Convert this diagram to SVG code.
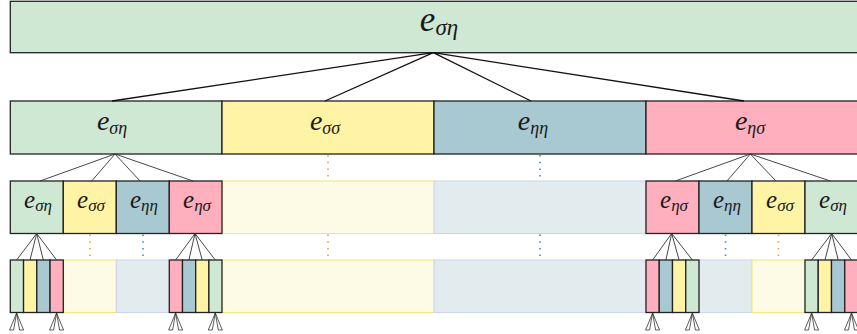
<svg xmlns="http://www.w3.org/2000/svg" width="857" height="334" viewBox="0 0 857 334">
<style>
.b{stroke:#222;stroke-width:1.3}
.g{fill:#cfe8d3}.y{fill:#fff4a6}.u{fill:#a8c8d2}.p{fill:#ffafbd}
.fy{fill:#fdfbe5;stroke:#f0e87e;stroke-width:1}
.fu{fill:#e2ebee;stroke:#ccd3ee;stroke-width:1}
.t{font-family:"Liberation Serif",serif;font-style:italic;fill:#1a1a1a;text-anchor:middle}
.t1{font-size:35px}.s1{font-size:23px}
.t2{font-size:28px}.s2{font-size:18px}
.t3{font-size:25px}.s3{font-size:17px}
.c1{stroke:#111;stroke-width:1.3;fill:none}
.c2{stroke:#333;stroke-width:0.9;fill:none}
.do{stroke:#f0a04b;stroke-width:1.7;stroke-dasharray:1.5 5.2;fill:none}
.db{stroke:#4a90c8;stroke-width:1.7;stroke-dasharray:1.5 5.2;fill:none}
.fan{fill:none;stroke:#333;stroke-width:0.8;stroke-linejoin:miter}
</style>
<rect width="857" height="334" fill="#fff"/>
<g id="faded">
<rect class="fy" x="222" y="181" width="212" height="52.5"/>
<rect class="fu" x="434" y="181" width="212" height="52.5"/>
<rect class="fy" x="63.3" y="260" width="53" height="52.5"/>
<rect class="fu" x="116.3" y="260" width="53" height="52.5"/>
<rect class="fy" x="222" y="260" width="212" height="52.5"/>
<rect class="fu" x="434" y="260" width="212" height="52.5"/>
<rect class="fu" x="699" y="260" width="53" height="52.5"/>
<rect class="fy" x="752" y="260" width="53" height="52.5"/>
</g>
<g id="root">
<rect class="b g" x="10.3" y="1.3" width="852" height="51.4"/>
<text class="t t1" x="439" y="31">e<tspan class="s1" dy="4">ση</tspan></text>
</g>
<g id="l2-sh">
<rect class="b g" x="10.3" y="101" width="211.7" height="53"/>
<text class="t t2" x="112" y="130">e<tspan class="s2" dy="4">ση</tspan></text>
</g>
<g id="l2-ss">
<rect class="b y" x="222" y="101" width="212" height="53"/>
<text class="t t2" x="325" y="130">e<tspan class="s2" dy="4">σσ</tspan></text>
</g>
<g id="l2-hh">
<rect class="b u" x="434" y="101" width="212" height="53"/>
<text class="t t2" x="533" y="130">e<tspan class="s2" dy="4">ηη</tspan></text>
</g>
<g id="l2-hs">
<rect class="b p" x="646" y="101" width="216" height="53"/>
<text class="t t2" x="750" y="130">e<tspan class="s2" dy="4">ησ</tspan></text>
</g>
<g id="l3-a">
<rect class="b g" x="10.3" y="181" width="53" height="52.5"/>
<text class="t t3" x="38" y="208">e<tspan class="s3" dy="3">ση</tspan></text>
<rect class="b y" x="63.3" y="181" width="53" height="52.5"/>
<text class="t t3" x="91" y="208">e<tspan class="s3" dy="3">σσ</tspan></text>
<rect class="b u" x="116.3" y="181" width="53" height="52.5"/>
<text class="t t3" x="144" y="208">e<tspan class="s3" dy="3">ηη</tspan></text>
<rect class="b p" x="169.3" y="181" width="52.7" height="52.5"/>
<text class="t t3" x="197" y="208">e<tspan class="s3" dy="3">ησ</tspan></text>
</g>
<g id="l3-b">
<rect class="b p" x="646" y="181" width="53" height="52.5"/>
<text class="t t3" x="674" y="208">e<tspan class="s3" dy="3">ησ</tspan></text>
<rect class="b u" x="699" y="181" width="53" height="52.5"/>
<text class="t t3" x="727" y="208">e<tspan class="s3" dy="3">ηη</tspan></text>
<rect class="b y" x="752" y="181" width="53" height="52.5"/>
<text class="t t3" x="780" y="208">e<tspan class="s3" dy="3">σσ</tspan></text>
<rect class="b g" x="805" y="181" width="53" height="52.5"/>
<text class="t t3" x="833" y="208">e<tspan class="s3" dy="3">ση</tspan></text>
</g>
<g id="l4-a">
<rect class="b g" x="10.3" y="260" width="13.25" height="52.5"/>
<rect class="b y" x="23.55" y="260" width="13.25" height="52.5"/>
<rect class="b u" x="36.8" y="260" width="13.25" height="52.5"/>
<rect class="b p" x="50.05" y="260" width="13.25" height="52.5"/>
</g>
<g id="l4-b">
<rect class="b p" x="169.3" y="260" width="13.2" height="52.5"/>
<rect class="b u" x="182.5" y="260" width="13.2" height="52.5"/>
<rect class="b y" x="195.7" y="260" width="13.2" height="52.5"/>
<rect class="b g" x="208.9" y="260" width="13.1" height="52.5"/>
</g>
<g id="l4-c">
<rect class="b p" x="646" y="260" width="13.25" height="52.5"/>
<rect class="b u" x="659.25" y="260" width="13.25" height="52.5"/>
<rect class="b y" x="672.5" y="260" width="13.25" height="52.5"/>
<rect class="b g" x="685.75" y="260" width="13.25" height="52.5"/>
</g>
<g id="l4-d">
<rect class="b g" x="805" y="260" width="13.25" height="52.5"/>
<rect class="b y" x="818.25" y="260" width="13.25" height="52.5"/>
<rect class="b u" x="831.5" y="260" width="13.25" height="52.5"/>
<rect class="b p" x="844.75" y="260" width="13.25" height="52.5"/>
</g>
<g id="connectors">
<path class="c1" d="M433.3 52.7L112 101M433.3 52.7L325 101M433.3 52.7L531 101M433.3 52.7L744 101"/>
<path class="c2" d="M115 154L40 181M115 154L91.7 181M115 154L140 181M115 154L193 181"/>
<path class="c2" d="M750.3 154L675.3 181M750.3 154L727 181M750.3 154L776 181M750.3 154L830.3 181"/>
<path class="c2" d="M36.7 233.5L16.6 260M36.7 233.5L30 260M36.7 233.5L43.3 260M36.7 233.5L56.6 260"/>
<path class="c2" d="M195 233.5L175.6 260M195 233.5L188.9 260M195 233.5L202.2 260M195 233.5L215.3 260"/>
<path class="c2" d="M671.7 233.5L652.6 260M671.7 233.5L665.9 260M671.7 233.5L679.1 260M671.7 233.5L692.4 260"/>
<path class="c2" d="M831.7 233.5L811.6 260M831.7 233.5L825 260M831.7 233.5L838.2 260M831.7 233.5L851.5 260"/>
<path class="do" d="M328 155V179"/>
<path class="db" d="M540 155V179"/>
<path class="do" d="M90 234.5V258M328 234.5V258M778.5 234.5V258"/>
<path class="db" d="M143 234.5V258M540 234.5V258M725.5 234.5V258"/>
<path class="fan" d="M16.6 313L9.6 330H13.6ZM16.6 313L19.6 330H23.6Z"/>
<path class="fan" d="M56.6 313L49.6 330H53.6ZM56.6 313L59.6 330H63.6Z"/>
<path class="fan" d="M175.6 313L168.6 330H172.6ZM175.6 313L178.6 330H182.6Z"/>
<path class="fan" d="M215.3 313L208.3 330H212.3ZM215.3 313L218.3 330H222.3Z"/>
<path class="fan" d="M652.6 313L645.6 330H649.6ZM652.6 313L655.6 330H659.6Z"/>
<path class="fan" d="M692.4 313L685.4 330H689.4ZM692.4 313L695.4 330H699.4Z"/>
<path class="fan" d="M811.6 313L804.6 330H808.6ZM811.6 313L814.6 330H818.6Z"/>
<path class="fan" d="M851.5 313L844.5 330H848.5ZM851.5 313L854.5 330H858.5Z"/>
</g>
</svg>
